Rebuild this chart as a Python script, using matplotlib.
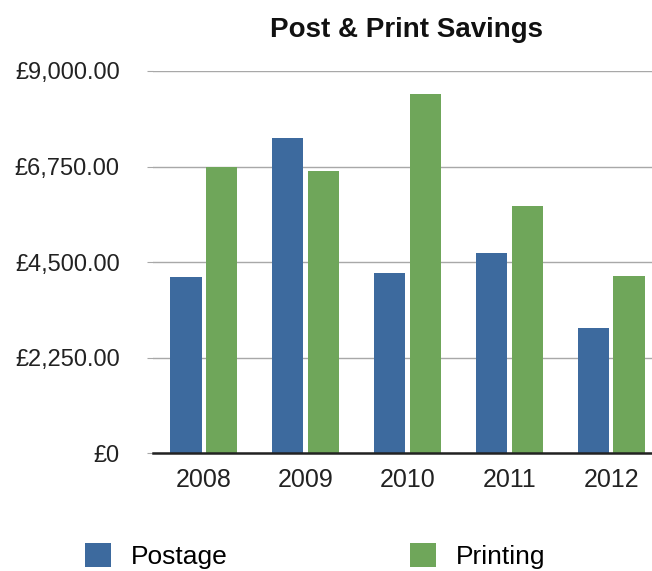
import matplotlib.pyplot as plt
import numpy as np

plt.rcParams['font.family'] = ['Liberation Sans', 'DejaVu Sans']

# data
years = ['2008', '2009', '2010', '2011', '2012']
postage = [4150, 7430, 4230, 4710, 2955]
printing = [6750, 6640, 8450, 5820, 4170]
yticks = [0, 2250, 4500, 6750, 9000]
ytick_labels = ['£0', '£2,250.00', '£4,500.00', '£6,750.00', '£9,000.00']

blue = '#3d6a9e'
green = '#6fa65a'

fig = plt.figure(figsize=(6.52, 5.71), dpi=100)
W, H = 652, 571
# axes run slightly past the right edge, as in the reference
ax = fig.add_axes([153 / W, 1 - 453 / H, 509 / W, (453 - 71) / H])

x = np.arange(len(years))
w = 0.305
off = 0.176
ax.bar(x - off, postage, w, color=blue, label='Postage', zorder=3)
ax.bar(x + off, printing, w, color=green, label='Printing', zorder=3)

ax.set_xlim(-0.5, 4.5)
ax.set_ylim(0, 9000)
ax.set_yticks(yticks)
ax.set_yticklabels(ytick_labels)
ax.set_xticks(x)
ax.set_xticklabels(years)

ax.grid(axis='y', color='#a8a8a8', linewidth=1, zorder=0)
for s in ['top', 'right', 'left']:
    ax.spines[s].set_visible(False)
ax.spines['bottom'].set_color('#222222')
ax.spines['bottom'].set_linewidth(1.8)
ax.spines['bottom'].set_zorder(4)

ax.tick_params(axis='x', length=0, pad=11, labelsize=18, labelcolor='#222222')
ax.tick_params(axis='y', length=4, color='#a8a8a8', pad=20, labelsize=17, labelcolor='#222222')

fig.text(406 / W, 1 - 30 / H, 'Post & Print Savings', ha='center', va='center',
         fontsize=20, fontweight='bold', color='#111111')

fig.legend(loc='center left', bbox_to_anchor=(85 / W, 1 - 556 / H), ncol=2,
           frameon=False, fontsize=19, handlelength=1.0, handleheight=1.0,
           handletextpad=0.75, columnspacing=6.9, borderpad=0, borderaxespad=0)

fig.savefig('out.png', dpi=100)
